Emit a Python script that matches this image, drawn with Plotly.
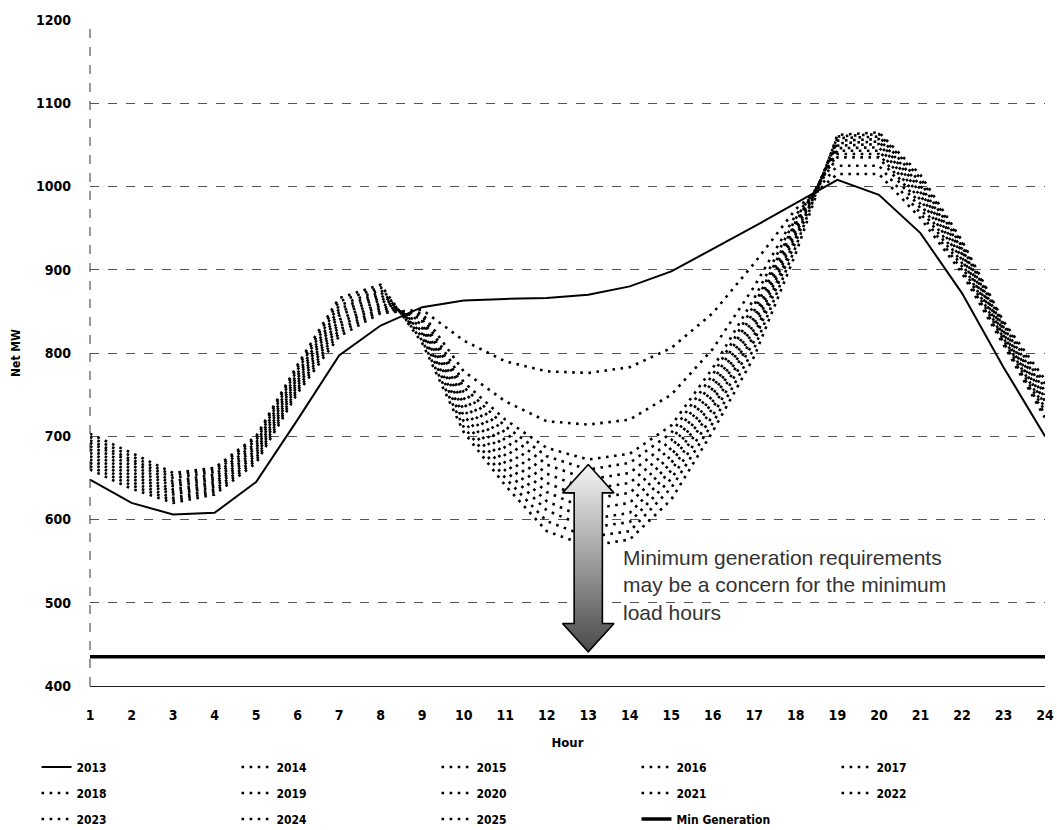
import plotly.graph_objects as go

hours = list(range(1, 25))

load_2013 = [648, 620, 606, 608, 645, 720, 797, 833, 855, 863, 865, 866,
             870, 880, 898, 925, 952, 980, 1008, 990, 944, 872, 783, 700]
load_2014 = [660, 637, 620, 630, 668, 752, 820, 848, 852, 815, 790, 778,
             776, 783, 806, 848, 908, 973, 1015, 1015, 962, 896, 810, 722]
load_2015 = [664, 641, 623, 633, 671, 755, 824, 851, 848, 778, 742, 718,
             714, 720, 750, 805, 880, 966, 1025, 1025, 968, 900, 813, 726]
load_2016 = [668, 645, 626, 636, 674, 758, 828, 854, 845, 765, 720, 686,
             672, 679, 713, 782, 866, 962, 1035, 1035, 974, 904, 816, 730]
load_2017 = [672, 649, 630, 639, 677, 761, 832, 857, 841, 759, 712, 676,
             660, 668, 704, 774, 858, 958, 1039, 1039, 979, 908, 818, 734]
load_2018 = [676, 653, 633, 642, 680, 764, 836, 860, 838, 753, 704, 666,
             648, 656, 695, 766, 851, 955, 1043, 1043, 984, 912, 821, 738]
load_2019 = [680, 657, 636, 645, 683, 767, 840, 864, 834, 746, 695, 655,
             636, 644, 686, 758, 843, 951, 1046, 1047, 989, 915, 823, 742]
load_2020 = [684, 661, 640, 648, 686, 770, 845, 867, 830, 739, 686, 644,
             624, 632, 677, 750, 836, 947, 1049, 1051, 993, 919, 826, 746]
load_2021 = [688, 665, 643, 651, 689, 773, 849, 870, 826, 732, 677, 633,
             612, 620, 668, 742, 829, 943, 1052, 1054, 997, 922, 828, 750]
load_2022 = [692, 669, 646, 654, 692, 776, 853, 873, 823, 725, 668, 622,
             600, 608, 659, 734, 822, 939, 1055, 1057, 1001, 925, 831, 754]
load_2023 = [695, 672, 650, 657, 695, 780, 857, 876, 819, 718, 659, 611,
             590, 597, 649, 725, 815, 934, 1058, 1060, 1005, 928, 833, 758]
load_2024 = [699, 676, 653, 660, 698, 783, 862, 879, 815, 711, 650, 598,
             579, 586, 638, 716, 806, 928, 1060, 1063, 1010, 932, 836, 763]
load_2025 = [703, 680, 656, 662, 700, 786, 866, 882, 812, 705, 641, 586,
             568, 576, 624, 706, 796, 920, 1062, 1065, 1014, 935, 838, 768]
min_generation = [435, 435, 435, 435, 435, 435, 435, 435, 435, 435, 435, 435,
                  435, 435, 435, 435, 435, 435, 435, 435, 435, 435, 435, 435]

dotted_years = ["2014", "2015", "2016", "2017", "2018", "2019", "2020",
                "2021", "2022", "2023", "2024", "2025"]
dotted_series = [load_2014, load_2015, load_2016, load_2017, load_2018,
                 load_2019, load_2020, load_2021, load_2022, load_2023,
                 load_2024, load_2025]

y_ticks = [400, 500, 600, 700, 800, 900, 1000, 1100, 1200]

note_text = ("Minimum generation requirements<br>"
             "may be a concern for the minimum<br>"
             "load hours")
arrow_hour = 13
arrow_top = 666
arrow_bottom = 441

FONT = "DejaVu Sans Condensed, Liberation Sans, Arial, sans-serif"

fig = go.Figure()


def legend_for(i):
    # i = position in full legend order (0..13); five entries per row
    row = i // 5
    return ["legend", "legend2", "legend3"][row]


fig.add_trace(go.Scatter(
    x=hours, y=load_2013, mode="lines", name="2013",
    line=dict(color="black", width=2), legend=legend_for(0)))

for k, (name, vals) in enumerate(zip(dotted_years, dotted_series)):
    fig.add_trace(go.Scatter(
        x=hours, y=vals, mode="lines", name=name,
        line=dict(color="black", width=2.6, dash="2.6px,5.5px"),
        legend=legend_for(k + 1)))

fig.add_trace(go.Scatter(
    x=hours, y=min_generation, mode="lines", name="Min Generation",
    line=dict(color="black", width=3.5), legend=legend_for(13)))

# Double-headed block arrow (annotation graphic)
sw = 0.34   # shaft half-width in hours
hw = 0.62   # head half-width in hours
hh = 34     # head height in MW
ax = [arrow_hour, arrow_hour + hw, arrow_hour + sw, arrow_hour + sw,
      arrow_hour + hw, arrow_hour, arrow_hour - hw, arrow_hour - sw,
      arrow_hour - sw, arrow_hour - hw, arrow_hour]
ay = [arrow_top, arrow_top - hh, arrow_top - hh, arrow_bottom + hh,
      arrow_bottom + hh, arrow_bottom, arrow_bottom + hh, arrow_bottom + hh,
      arrow_top - hh, arrow_top - hh, arrow_top]
fig.add_trace(go.Scatter(
    x=ax, y=ay, mode="lines", fill="toself", showlegend=False,
    hoverinfo="skip",
    line=dict(color="black", width=1.6),
    fillgradient=dict(type="vertical", start=arrow_bottom, stop=arrow_top,
                      colorscale=[[0, "#4a4a4a"], [0.5, "#a0a0a0"],
                                  [1, "#f4f4f4"]])))

fig.add_annotation(
    x=13.8, y=521, xref="x", yref="y", text=note_text, showarrow=False,
    xanchor="left", yanchor="middle", align="left",
    font=dict(family="Liberation Sans, Arial, sans-serif", size=21,
              color="#333333"))

# dashed left axis line
fig.add_shape(type="line", xref="paper", yref="paper", x0=0, x1=0, y0=0, y1=1,
              line=dict(color="#333333", width=1, dash="dash"))

legend_common = dict(
    orientation="h", xanchor="left", yanchor="middle",
    entrywidth=155, entrywidthmode="pixels",
    font=dict(family=FONT, size=12, color="black", weight="bold"),
    bgcolor="rgba(0,0,0,0)", borderwidth=0, itemwidth=30,
    tracegroupgap=0)

fig.update_layout(
    width=1057, height=830,
    margin=dict(l=90, r=12, t=20, b=144, autoexpand=False),
    paper_bgcolor="white", plot_bgcolor="white",
    font=dict(family=FONT, color="black"),
    legend=dict(x=-0.056, y=-0.1216, **legend_common),
    legend2=dict(x=-0.056, y=-0.1607, **legend_common),
    legend3=dict(x=-0.056, y=-0.1997, **legend_common),
    xaxis=dict(
        range=[1, 24], tickmode="array", tickvals=hours,
        ticktext=[str(h) for h in hours],
        showgrid=False, zeroline=False,
        showline=True, linecolor="#222222", linewidth=1,
        ticks="", ticklabelstandoff=16,
        tickfont=dict(family=FONT, size=14, color="black", weight="bold"),
        title=dict(text="Hour", font=dict(family=FONT, size=13,
                                          color="black", weight="bold"),
                   standoff=16),
    ),
    yaxis=dict(
        range=[400, 1200], tickmode="array", tickvals=y_ticks,
        showgrid=True, gridcolor="#555555", gridwidth=1, griddash="dash",
        zeroline=False, showline=False, ticks="",
        ticklabelstandoff=18,
        tickfont=dict(family=FONT, size=14, color="black", weight="bold"),
        title=dict(text="Net MW", font=dict(family=FONT, size=12,
                                            color="black", weight="bold"),
                   standoff=12),
    ),
)

fig.write_html("out.html")
